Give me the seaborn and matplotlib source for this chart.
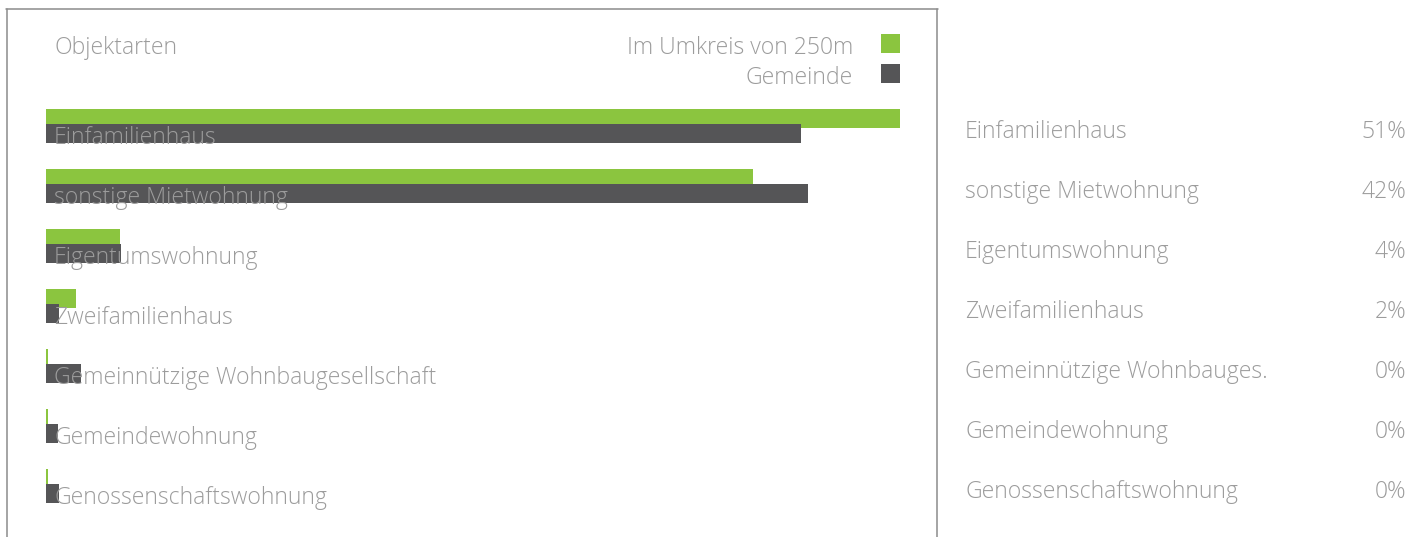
import matplotlib
matplotlib.use("Agg")
import matplotlib.pyplot as plt
from matplotlib.patches import Rectangle
from matplotlib.lines import Line2D
import seaborn as sns
import pandas as pd

# ---- data ----
categories = ["Einfamilienhaus", "sonstige Mietwohnung", "Eigentumswohnung",
              "Zweifamilienhaus", "Gemeinnützige Wohnbaugesellschaft",
              "Gemeindewohnung", "Genossenschaftswohnung"]
short_labels = ["Einfamilienhaus", "sonstige Mietwohnung", "Eigentumswohnung",
                "Zweifamilienhaus", "Gemeinnützige Wohnbauges.",
                "Gemeindewohnung", "Genossenschaftswohnung"]
umkreis = [51.0, 42.2, 4.4, 1.8, 0.1, 0.1, 0.1]
gemeinde = [45.1, 45.5, 4.5, 0.8, 2.1, 0.7, 0.8]
table_values = [51, 42, 4, 2, 0, 0, 0]
series_names = ["Im Umkreis von 250m", "Gemeinde"]
title = "Objektarten"

# ---- style ----
sns.set_theme(style="white")
plt.rcParams['font.family'] = ['Open Sans', 'DejaVu Sans']
GREEN = "#8bc53f"
DARK = "#555557"
TXT = "#9c9c9c"
W, H = 1423, 537
FS = 16.6
FW = "light"

fig = plt.figure(figsize=(W / 100, H / 100), dpi=100)
fig.patch.set_facecolor("white")

def fx(x):
    return x / W

def fy(y):
    return 1 - y / H

# bar axes: x 0..51 mapped to pixels 46..900, y in units of 60px rows
x0, x1 = 46, 900
ax = fig.add_axes([fx(x0), 0, (x1 - x0) / W, 1])
ax.patch.set_alpha(0)
row = 60.0
n = len(categories)
df_g = pd.DataFrame({"value": umkreis, "pos": [(118.5 + row * i) / row for i in range(n)]})
df_d = pd.DataFrame({"value": gemeinde, "pos": [(133.5 + row * i) / row for i in range(n)]})
sns.barplot(data=df_g, x="value", y="pos", orient="h", native_scale=True,
            width=19 / row, color=GREEN, saturation=1, linewidth=0, ax=ax)
sns.barplot(data=df_d, x="value", y="pos", orient="h", native_scale=True,
            width=19 / row, color=DARK, saturation=1, linewidth=0, ax=ax)
ax.set_xlim(0, max(umkreis))
ax.set_ylim(H / row, 0)
ax.axis("off")

# labels inside bars
for i, c in enumerate(categories):
    fig.text(fx(54), fy(144 + row * i), c, color=TXT, fontsize=FS,
             fontweight=FW, va="baseline", ha="left")

# title and legend
fig.text(fx(54), fy(53.5), title, color=TXT, fontsize=FS, fontweight=FW, va="baseline")
for k, (name, col) in enumerate(zip(series_names, [GREEN, DARK])):
    yb = 53.5 + 30 * k
    fig.text(fx(853), fy(yb), name, color=TXT, fontsize=FS, fontweight=FW,
             va="baseline", ha="right")
    fig.add_artist(Rectangle((fx(881), fy(53 + 30 * k)), 19 / W, 19 / H,
                             transform=fig.transFigure, color=col, lw=0))

# frame
fc = "#8c8c8c"
lw = 1.1
fig.add_artist(Line2D([fx(6.5), fx(6.5)], [fy(9), 0], color=fc, lw=lw, transform=fig.transFigure))
fig.add_artist(Line2D([fx(937), fx(937)], [fy(9), 0], color=fc, lw=lw, transform=fig.transFigure))
fig.add_artist(Line2D([fx(6), fx(937.5)], [fy(9), fy(9)], color=fc, lw=lw, transform=fig.transFigure))

# right table
for i, (lab, v) in enumerate(zip(short_labels, table_values)):
    yb = 138 + row * i
    fig.text(fx(965), fy(yb), lab, color=TXT, fontsize=FS, fontweight=FW,
             va="baseline", ha="left")
    fig.text(fx(1406), fy(yb), f"{v}%", color=TXT, fontsize=FS, fontweight=FW,
             va="baseline", ha="right")

fig.savefig("out.png", dpi=100, facecolor="white")
